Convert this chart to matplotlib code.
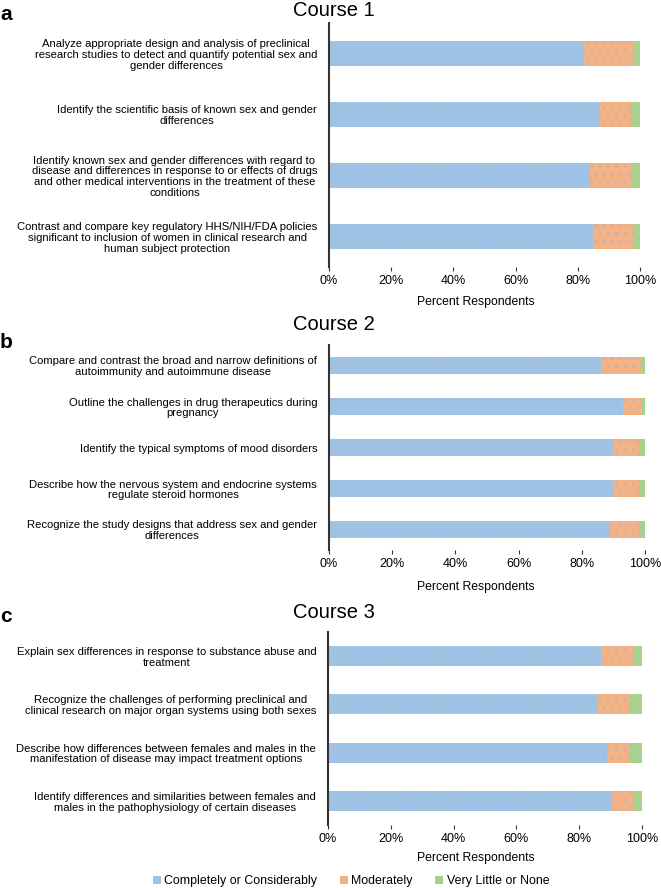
import matplotlib
matplotlib.use("Agg")
import matplotlib.pyplot as plt
from matplotlib.patches import Patch
import numpy as np

plt.rcParams['font.family'] = ['Liberation Sans', 'DejaVu Sans']
plt.rcParams['hatch.linewidth'] = 0.6

series_names = ["Completely or Considerably", "Moderately", "Very Little or None"]
colors = ["#9dc3e6", "#f4b183", "#a9d18e"]
dot_colors = ["#b8b4c8", "#a9b8cc", "#b5cfa8"]

course1_labels = [
    "Analyze appropriate design and analysis of preclinical\nresearch studies to detect and quantify potential sex and\ngender differences",
    "Identify the scientific basis of known sex and gender\ndifferences",
    "Identify known sex and gender differences with regard to\ndisease and differences in response to or effects of drugs\nand other medical interventions in the treatment of these\nconditions",
    "Contrast and compare key regulatory HHS/NIH/FDA policies\nsignificant to inclusion of women in clinical research and\nhuman subject protection",
]
course1_complete = [82, 87, 84, 85]
course1_moderate = [16, 10, 13, 13]
course1_little = [2, 3, 3, 2]

course2_labels = [
    "Compare and contrast the broad and narrow definitions of\nautoimmunity and autoimmune disease",
    "Outline the challenges in drug therapeutics during\npregnancy",
    "Identify the typical symptoms of mood disorders",
    "Describe how the nervous system and endocrine systems\nregulate steroid hormones",
    "Recognize the study designs that address sex and gender\ndifferences",
]
course2_complete = [86, 93, 90, 90, 89]
course2_moderate = [13, 6, 8, 8, 9]
course2_little = [1, 1, 2, 2, 2]

course3_labels = [
    "Explain sex differences in response to substance abuse and\ntreatment",
    "Recognize the challenges of performing preclinical and\nclinical research on major organ systems using both sexes",
    "Describe how differences between females and males in the\nmanifestation of disease may impact treatment options",
    "Identify differences and similarities between females and\nmales in the pathophysiology of certain diseases",
]
course3_complete = [87, 86, 89, 90]
course3_moderate = [10, 10, 7, 7]
course3_little = [3, 4, 4, 3]

x_ticks = [0, 20, 40, 60, 80, 100]
x_ticklabels = ["0%", "20%", "40%", "60%", "80%", "100%"]

W, H = 661, 888
fig = plt.figure(figsize=(W / 100, H / 100), dpi=100)

def frac_rect(left, right, top, bottom):
    return [left / W, 1 - bottom / H, (right - left) / W, (bottom - top) / H]

panels = [
    dict(rect=frac_rect(329, 640, 23, 267), labels=course1_labels,
         data=[course1_complete, course1_moderate, course1_little],
         title="Course 1", letter="a", ty=11, ly=14, xlab_y=302),
    dict(rect=frac_rect(329, 645, 345, 550), labels=course2_labels,
         data=[course2_complete, course2_moderate, course2_little],
         title="Course 2", letter="b", ty=325, ly=343, xlab_y=587),
    dict(rect=frac_rect(328, 642, 632, 825), labels=course3_labels,
         data=[course3_complete, course3_moderate, course3_little],
         title="Course 3", letter="c", ty=613, ly=617, xlab_y=858),
]

for p in panels:
    ax = fig.add_axes(p["rect"])
    n = len(p["labels"])
    y = np.arange(n)
    left = np.zeros(n)
    for vals, col, dc in zip(p["data"], colors, dot_colors):
        ax.barh(y, vals, left=left, height=0.41, facecolor=col, edgecolor=dc,
                linewidth=0, hatch='..')
        left = left + np.array(vals)
    ax.set_ylim(n - 0.5, -0.5)
    ax.set_xlim(0, 100)
    ax.set_yticks(y)
    ax.set_yticklabels(p["labels"], fontsize=8.1)
    for t in ax.get_yticklabels():
        t.set_multialignment('center')
        t.set_linespacing(1.1)
    ax.tick_params(axis='y', length=0, pad=8.5)
    ax.set_xticks(x_ticks)
    ax.set_xticklabels(x_ticklabels, fontsize=9)
    ax.tick_params(axis='x', length=3, width=0.8, color='#333333', pad=2.5)
    for s in ['top', 'right', 'bottom']:
        ax.spines[s].set_visible(False)
    ax.spines['left'].set_linewidth(1.5)
    ax.spines['left'].set_color('#333333')
    fig.text(476 / W, 1 - p["xlab_y"] / H, "Percent Respondents", ha='center', va='center', fontsize=8.8)
    fig.text(334 / W, 1 - p["ty"] / H, p["title"], ha='center', va='center', fontsize=14.5)
    fig.text(0 / W, 1 - p["ly"] / H, p["letter"], ha='left', va='center', fontsize=15, fontweight='bold')

handles = [Patch(facecolor=c, edgecolor='none') for c in colors]
fig.legend(handles, series_names, loc='center', bbox_to_anchor=(351 / W, 1 - 881 / H),
           ncol=3, frameon=False, fontsize=8.9, handlelength=0.65, handleheight=0.65,
           handletextpad=0.3, columnspacing=1.8, borderaxespad=0, borderpad=0)

fig.savefig("out.png", dpi=100)
